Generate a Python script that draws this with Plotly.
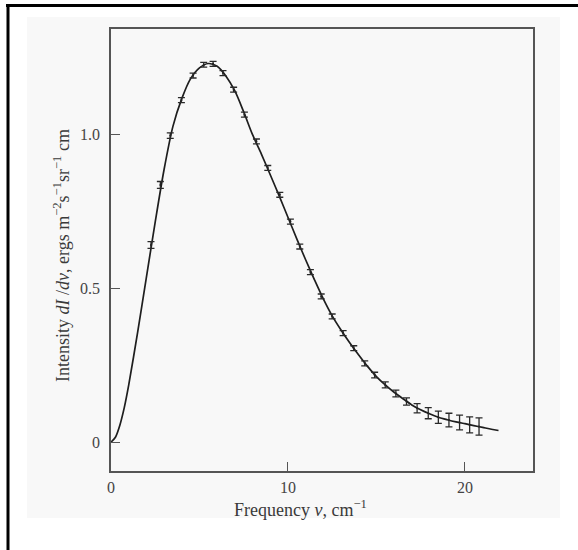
import plotly.graph_objects as go

# Measured data points (frequency in cm^-1, intensity) with error bars
freq_pts = [2.26, 2.79, 3.35, 3.98, 4.64, 5.24, 5.77, 6.33, 6.93, 7.54, 8.22, 8.86,
            9.54, 10.14, 10.67, 11.27, 11.88, 12.50, 13.12, 13.72, 14.34, 14.90,
            15.50, 16.10, 16.70, 17.30, 17.93, 18.50, 19.10, 19.70, 20.27, 20.80]
inten_pts = [0.640, 0.835, 0.995, 1.110, 1.190, 1.225, 1.228, 1.198, 1.144, 1.063,
             0.976, 0.890, 0.803, 0.716, 0.635, 0.552, 0.473, 0.408, 0.354, 0.305,
             0.256, 0.218, 0.186, 0.158, 0.132, 0.110, 0.094, 0.081, 0.072, 0.064,
             0.056, 0.051]
err_pts = [0.011, 0.011, 0.009, 0.008, 0.008, 0.008, 0.008, 0.008, 0.008, 0.008,
           0.008, 0.008, 0.008, 0.008, 0.008, 0.008, 0.008, 0.008, 0.008, 0.008,
           0.008, 0.009, 0.010, 0.011, 0.012, 0.015, 0.018, 0.020, 0.022, 0.024,
           0.026, 0.028]

# Smooth curve
freq_curve = [0.0, 0.25, 0.5, 0.75, 1.0, 1.5, 2.0, 2.5, 3.0, 3.5, 4.0, 4.5, 5.0,
              5.5, 6.0, 6.5, 7.0, 7.5, 8.0, 8.5, 9.0, 9.5, 10.0, 10.5, 11.0, 11.5,
              12.0, 12.5, 13.0, 13.5, 14.0, 14.5, 15.0, 15.5, 16.0, 16.5, 17.0,
              17.5, 18.0, 18.5, 19.0, 19.5, 20.0, 20.5, 21.0, 21.5, 21.9]
inten_curve = [0.0, 0.016, 0.055, 0.112, 0.185, 0.355, 0.535, 0.715, 0.885, 1.025,
               1.115, 1.180, 1.215, 1.229, 1.220, 1.188, 1.140, 1.072, 0.998,
               0.935, 0.868, 0.800, 0.730, 0.660, 0.592, 0.527, 0.465, 0.410,
               0.364, 0.322, 0.283, 0.246, 0.213, 0.186, 0.162, 0.141, 0.121,
               0.105, 0.092, 0.081, 0.073, 0.066, 0.060, 0.054, 0.048, 0.042,
               0.038]

x_ticks = [0, 10, 20]
y_ticks = [0, 0.5, 1.0]
y_tick_text = ["0", "0.5", "1.0"]
x_title = "Frequency <i>ν</i>, cm<sup>−1</sup>"
y_title = "Intensity <i>dI</i> /<i>dν</i>, ergs m<sup>−2</sup>s<sup>−1</sup>sr<sup>−1</sup> cm"

serif = "Liberation Serif, Times New Roman, serif"

fig = go.Figure()
fig.add_trace(go.Scatter(
    x=freq_curve, y=inten_curve, mode="lines",
    line=dict(color="#1e1e1e", width=1.7, shape="spline", smoothing=0.8),
    hoverinfo="skip", showlegend=False))
fig.add_trace(go.Scatter(
    x=freq_pts, y=inten_pts, mode="markers",
    marker=dict(size=2, color="#222"),
    error_y=dict(type="data", array=err_pts, visible=True, color="#2a2a2a",
                 thickness=1.3, width=3.5),
    showlegend=False))

# plot area in pixels: x 111..533, y 29..471
L, R, T, B = 111, 45, 29, 79
W, H = 578, 550
pw, ph = W - L - R, H - T - B


def px(xp):
    return (xp - L) / pw


def py(yp):
    return (H - B - yp) / ph


shapes = [
    # light scanned-page background
    dict(type="rect", xref="paper", yref="paper", x0=px(27), x1=px(560),
         y0=py(518), y1=py(17), fillcolor="#f8f8f8", line=dict(width=0),
         layer="below"),
    # outer black border (top and left)
    dict(type="line", xref="paper", yref="paper", x0=px(6), x1=px(580),
         y0=py(5.5), y1=py(5.5), line=dict(color="black", width=3)),
    dict(type="line", xref="paper", yref="paper", x0=px(8), x1=px(8),
         y0=py(4), y1=py(552), line=dict(color="black", width=3)),
]

annotations = [
    dict(text=x_title, xref="paper", yref="paper", x=px(300), y=py(509),
         xanchor="center", yanchor="middle", showarrow=False,
         font=dict(size=18, color="#3a3a3a", family=serif)),
    dict(text=y_title, xref="paper", yref="paper", x=px(62), y=py(256),
         xanchor="center", yanchor="middle", showarrow=False, textangle=-90,
         font=dict(size=18, color="#3a3a3a", family=serif)),
]

fig.update_layout(
    width=W, height=H,
    margin=dict(l=L, r=R, t=T, b=B, pad=0),
    paper_bgcolor="white", plot_bgcolor="#f9f9f9",
    font=dict(family=serif, size=16, color="#3a3a3a"),
    shapes=shapes, annotations=annotations,
    xaxis=dict(range=[0, 23.85], tickvals=x_ticks, ticks="inside", ticklen=9,
               tickwidth=1.3, tickcolor="#555", showline=True, linecolor="#555",
               linewidth=1.6, mirror=True, showgrid=False, zeroline=False,
               tickfont=dict(size=16, color="#444"), ticklabelstandoff=1),
    yaxis=dict(range=[-0.0935, 1.341], tickvals=y_ticks, ticktext=y_tick_text,
               ticks="inside", ticklen=9, tickwidth=1.3, tickcolor="#555",
               showline=True, linecolor="#555", linewidth=1.6, mirror=True,
               showgrid=False, zeroline=False, ticklabelstandoff=6,
               tickfont=dict(size=16, color="#444")),
)

fig.write_html("out.html", config={"displayModeBar": False},
               post_script="document.body.style.margin='0';")
